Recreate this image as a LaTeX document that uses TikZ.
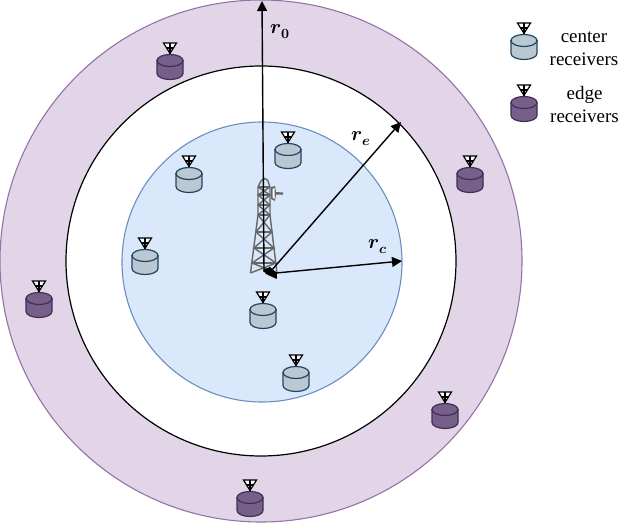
\documentclass[tikz,border=0pt]{standalone}
\usepackage{fontspec}
\usepackage{unicode-math}
\setmainfont{Liberation Serif}
\setmathfont{Latin Modern Math}
\usetikzlibrary{arrows.meta}
\definecolor{ringfill}{HTML}{E1D5E7}
\definecolor{ringline}{HTML}{9673A6}
\definecolor{bluefill}{HTML}{DAE8FC}
\definecolor{blueline}{HTML}{6C8EBF}
\definecolor{cfill}{HTML}{BAC8D3}
\definecolor{cline}{HTML}{23445D}
\definecolor{efill}{HTML}{76608A}
\definecolor{eline}{HTML}{432D57}
\definecolor{towerc}{HTML}{666666}
\tikzset{
  ring/.style={draw=ringline,fill=ringfill,line width=1.1pt},
  gap/.style={draw=black,fill=white,line width=1.2pt},
  cell/.style={draw=blueline,fill=bluefill,line width=1.1pt},
  radius arrow/.style={draw=black,line width=1.4pt,-{Triangle[length=10pt,width=10pt]}},
  lab/.style={font=\fontsize{20}{20}\selectfont,inner sep=0pt},
  legendtext/.style={font=\fontsize{19}{23}\selectfont,align=center,inner sep=0pt},
  tw/.style={draw=towerc,line width=1.4pt},
  pics/receiver/.style 2 args={code={
    \draw[black,line width=1.2pt,fill=white] (-6.5,-24) -- (6.5,-24) -- (0,-13.5) -- cycle;
    \draw[black,line width=1.2pt] (-3.2,-19) -- (3.2,-19) (0,-24) -- (0,-12);
    \draw[draw=#2,fill=#1,line width=1.2pt] (-13,-6.5) -- (-13,6.5) arc[start angle=180,end angle=0,x radius=13,y radius=6] -- (13,-6.5) -- cycle;
    \draw[draw=#2,fill=#1,line width=1.2pt] (0,-6.5) ellipse[x radius=13,y radius=6];
  }},
}
\begin{document}
\begin{tikzpicture}[x=1pt,y=-1pt]
\useasboundingbox (0,0) rectangle (620,524);
\node[circle,ring,minimum size=522pt,inner sep=0pt] (outer) at (261,261) {};
\node[circle,gap,minimum size=390pt,inner sep=0pt] (mid) at (261,261) {};
\node[circle,cell,minimum size=280pt,inner sep=0pt] (inner) at (262,262) {};
% tower
\begin{scope}
\draw[tw] (250.5,273) -- (258,215) -- (258,187) -- (261,181) .. controls (264,178) and (266,178) .. (268,181) -- (270,187) -- (270,215) -- (277,273);
\draw[tw] (258,187) -- (270,187) (258,195) -- (270,195) (258,205) -- (270,205) (258,215) -- (270,215)
  (256,232) -- (272,232) (254,248) -- (274,248) (252,263) -- (276,263);
\draw[tw] (258,187) -- (270,195) -- (258,205) -- (270,215) -- (256,232) -- (274,248) -- (252,263) -- (277,273);
\draw[tw] (270,187) -- (258,195) -- (270,205) -- (258,215) -- (272,232) -- (254,248) -- (276,263) -- (250.5,273);
\fill[towerc] (271,187) -- (275,186) -- (276,192) -- (283,192.5) -- (283,194.5) -- (276,194.5) -- (275,201) -- (271,199) -- cycle;
\fill[white] (272.5,189) -- (274.5,188) -- (274.5,199) -- (272.5,197.5) -- cycle;
\end{scope}
\coordinate (o) at (271,271);
\coordinate (oc) at (276,273);
\coordinate (o0) at (264,272);
\fill[black] (263,270) -- (270,267) -- (277,273) -- (276.7,279) -- (266,274) -- cycle;
\draw[radius arrow] (o0) -- (262,1);
\draw[radius arrow] (o) -- (401,122);
\draw[radius arrow] (oc) -- (402,261);
\node[lab] (r0) at (280,32) {$\symbfit{r}_{\symbf{0}}$};
\node[lab] (re) at (361,139) {$\symbfit{r}_{\symbfit{e}}$};
\node[lab] (rc) at (378,247) {$\symbfit{r}_{\symbfit{c}}$};
\foreach \p in {(288,156),(189,180),(145,262),(263,316),(296,379),(524,47)}
  \pic at \p {receiver={cfill}{cline}};
\foreach \p in {(170,67),(470,180),(39,305),(445,416),(250,504),(524,109)}
  \pic at \p {receiver={efill}{eline}};
\node[legendtext] (l1) at (584,48.5) {center\\receivers};
\node[legendtext] (l2) at (584.5,105) {edge\\receivers};
\end{tikzpicture}
\end{document}
